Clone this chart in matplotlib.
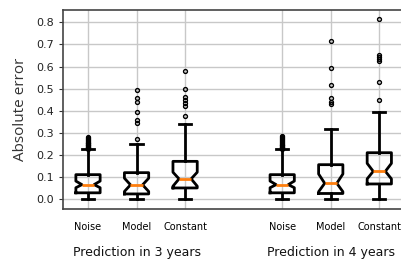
import numpy as np
import matplotlib
matplotlib.use('Agg')
import matplotlib.pyplot as plt

# box statistics
labels = ['Noise', 'Model', 'Constant', 'Noise', 'Model', 'Constant']
positions = [1, 2, 3, 5, 6, 7]
groups = ['Prediction in 3 years', 'Prediction in 4 years']
group_centres = [2, 6]

q1 = [0.030, 0.025, 0.052, 0.030, 0.027, 0.070]
med = [0.067, 0.066, 0.093, 0.067, 0.073, 0.127]
q3 = [0.112, 0.121, 0.172, 0.112, 0.157, 0.211]
ci_lo = [0.053, 0.036, 0.060, 0.053, 0.035, 0.093]
ci_hi = [0.083, 0.096, 0.123, 0.083, 0.115, 0.163]
whis_lo = [0.000, 0.003, 0.000, 0.000, 0.000, 0.000]
whis_hi = [0.228, 0.250, 0.339, 0.228, 0.320, 0.393]
fliers = [
    [0.230, 0.233, 0.236, 0.239, 0.242, 0.245, 0.248, 0.251, 0.254, 0.257, 0.260,
     0.264, 0.268, 0.272, 0.276, 0.280],
    [0.273, 0.345, 0.358, 0.393, 0.440, 0.457, 0.493],
    [0.378, 0.423, 0.435, 0.450, 0.463, 0.500, 0.579],
    [0.230, 0.233, 0.236, 0.239, 0.242, 0.245, 0.248, 0.251, 0.255, 0.259, 0.263,
     0.267, 0.271, 0.276, 0.281, 0.285],
    [0.430, 0.438, 0.460, 0.516, 0.592, 0.714],
    [0.450, 0.532, 0.624, 0.633, 0.643, 0.652, 0.816],
]

stats = []
for i in range(len(labels)):
    stats.append(dict(q1=q1[i], med=med[i], q3=q3[i], cilo=ci_lo[i], cihi=ci_hi[i],
                      whislo=whis_lo[i], whishi=whis_hi[i], fliers=fliers[i]))

fig = plt.figure(figsize=(4.02, 2.61), dpi=100)
ax = fig.add_axes([63/402, (261-209)/261, (406-63)/402, (209-10)/261])

ax.bxp(stats, positions=positions, widths=0.5, shownotches=True,
       boxprops=dict(color='black', linewidth=2),
       whiskerprops=dict(color='black', linewidth=2),
       capprops=dict(color='black', linewidth=2),
       medianprops=dict(color='#ff7f0e', linewidth=2),
       flierprops=dict(marker='o', markersize=2.8, markerfacecolor='none',
                       markeredgecolor='black', markeredgewidth=1.0))

ax.set_xlim(0.485, 7.55)
ax.set_ylim(-0.043, 0.855)
ax.set_yticks(np.arange(0, 0.81, 0.1))
ax.set_yticklabels(['%.1f' % v for v in np.arange(0, 0.81, 0.1)], fontsize=8, color='#222222')
ax.set_xticks(positions)
ax.set_xticklabels(labels, fontsize=7)
ax.tick_params(axis='x', length=0, pad=9)
ax.tick_params(axis='y', length=3, color='#333333')
ax.grid(True, color='#c8c8c8', linewidth=1.0)
ax.set_axisbelow(True)
for side in ['left', 'top', 'bottom']:
    ax.spines[side].set_color('#444444')
    ax.spines[side].set_linewidth(1.2)
ax.spines['right'].set_visible(False)

ax.set_ylabel('Absolute error', fontsize=11, color='#333333', family='Open Sans', labelpad=6)

for g, c in zip(groups, group_centres):
    ax.text(c, -0.24, g, ha='center', va='center', fontsize=9, color='#111111')

fig.savefig('out.png', dpi=100)
